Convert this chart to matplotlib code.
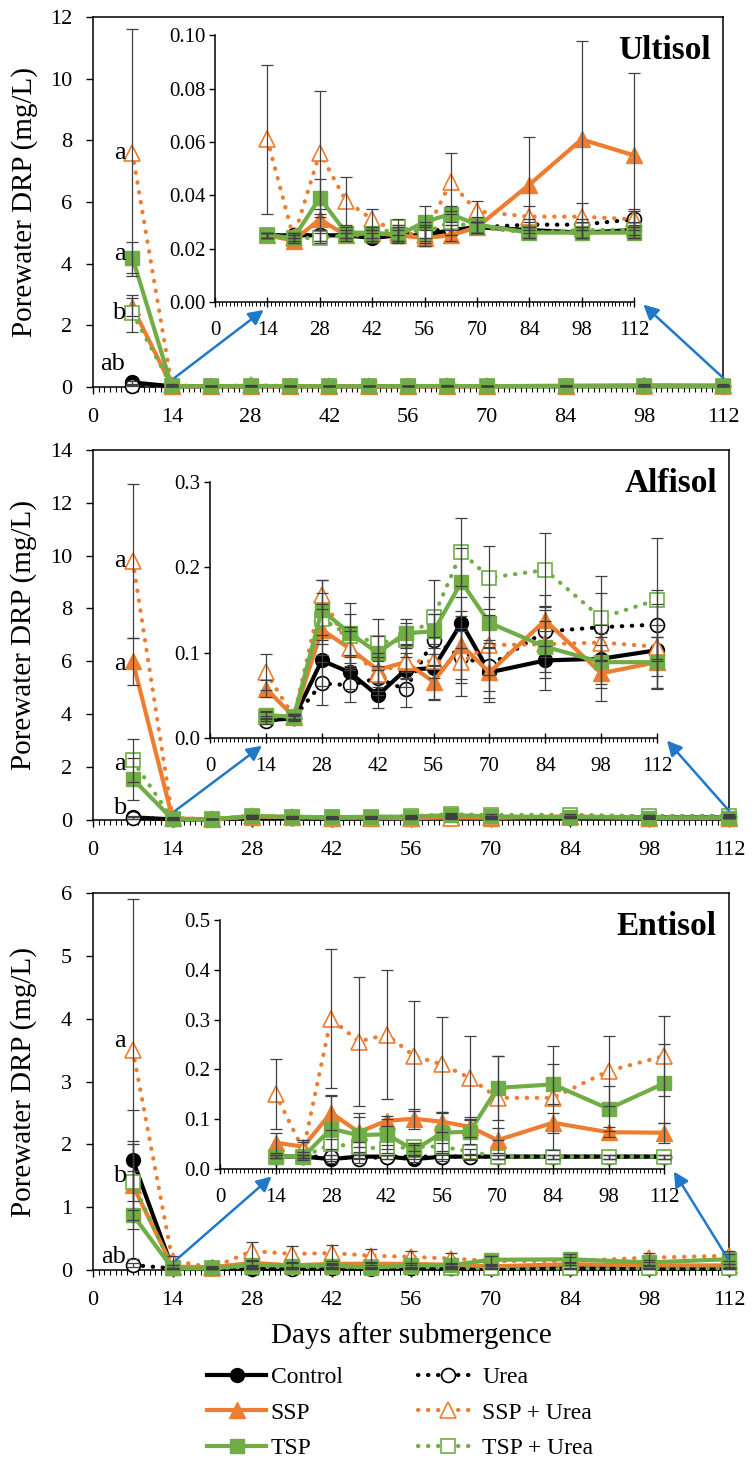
import matplotlib.pyplot as plt
import matplotlib.transforms as mtransforms
from matplotlib.patches import ConnectionPatch
from matplotlib.ticker import MultipleLocator, FormatStrFormatter

plt.rcParams['font.family'] = ['Liberation Serif', 'DejaVu Serif']

################################################################################
# Data: porewater DRP (mg/L), mean and error bar, sampling days
days = [7, 14, 21, 28, 35, 42, 49, 56, 63, 70, 84, 98, 112]
treatments = ['Control', 'Urea', 'SSP', 'SSP + Urea', 'TSP', 'TSP + Urea']

# Ultisol
ult_control = [0.15, 0.025, 0.025, 0.025, 0.025, 0.024, 0.025, 0.025, 0.027, 0.028, 0.027, 0.026, 0.027]
ult_urea = [0.05, 0.025, 0.025, 0.025, 0.025, 0.025, 0.026, 0.027, 0.027, 0.028, 0.029, 0.029, 0.031]
ult_ssp = [2.6, 0.025, 0.023, 0.031, 0.025, 0.026, 0.025, 0.024, 0.025, 0.028, 0.044, 0.061, 0.055]
ult_ssp_urea = [7.6, 0.061, 0.024, 0.056, 0.038, 0.031, 0.026, 0.025, 0.045, 0.034, 0.032, 0.032, 0.031]
ult_tsp = [4.2, 0.025, 0.024, 0.039, 0.026, 0.026, 0.025, 0.030, 0.033, 0.029, 0.026, 0.026, 0.026]
ult_tsp_urea = [2.4, 0.025, 0.024, 0.024, 0.025, 0.025, 0.028, 0.026, 0.030, 0.028, 0.026, 0.027, 0.027]

ult_control_err = [0.05, 0.001, 0.001, 0.002, 0.001, 0.002, 0.003, 0.004, 0.002, 0.002, 0.003, 0.002, 0.002]
ult_urea_err = [0.02, 0.001, 0.001, 0.002, 0.001, 0.002, 0.003, 0.003, 0.002, 0.002, 0.002, 0.002, 0.003]
ult_ssp_err = [0.3, 0.001, 0.001, 0.004, 0.002, 0.002, 0.002, 0.003, 0.002, 0.002, 0.018, 0.037, 0.031]
ult_ssp_urea_err = [4.0, 0.028, 0.002, 0.023, 0.009, 0.004, 0.003, 0.003, 0.011, 0.004, 0.004, 0.005, 0.004]
ult_tsp_err = [0.5, 0.001, 0.001, 0.007, 0.002, 0.002, 0.003, 0.006, 0.003, 0.003, 0.002, 0.002, 0.002]
ult_tsp_urea_err = [0.6, 0.001, 0.001, 0.002, 0.002, 0.002, 0.003, 0.003, 0.003, 0.002, 0.002, 0.003, 0.003]

# Alfisol
alf_control = [0.10, 0.021, 0.023, 0.091, 0.077, 0.050, 0.080, 0.082, 0.135, 0.077, 0.091, 0.093, 0.103]
alf_urea = [0.08, 0.020, 0.024, 0.064, 0.062, 0.070, 0.057, 0.115, 0.095, 0.085, 0.125, 0.130, 0.133]
alf_ssp = [6.0, 0.058, 0.025, 0.127, 0.105, 0.080, 0.089, 0.066, 0.109, 0.077, 0.138, 0.076, 0.089]
alf_ssp_urea = [9.8, 0.077, 0.025, 0.168, 0.105, 0.075, 0.090, 0.090, 0.089, 0.109, 0.110, 0.112, 0.107]
alf_tsp = [1.55, 0.027, 0.025, 0.150, 0.123, 0.100, 0.123, 0.125, 0.183, 0.135, 0.107, 0.089, 0.089]
alf_tsp_urea = [2.25, 0.025, 0.025, 0.140, 0.120, 0.112, 0.115, 0.142, 0.218, 0.188, 0.197, 0.141, 0.162]

alf_control_err = [0.05, 0.005, 0.003, 0.030, 0.020, 0.015, 0.020, 0.037, 0.030, 0.035, 0.035, 0.030, 0.030]
alf_urea_err = [0.03, 0.003, 0.003, 0.025, 0.020, 0.020, 0.020, 0.030, 0.030, 0.030, 0.030, 0.040, 0.040]
alf_ssp_err = [0.9, 0.010, 0.003, 0.030, 0.025, 0.020, 0.020, 0.020, 0.040, 0.030, 0.030, 0.033, 0.030]
alf_ssp_urea_err = [2.9, 0.021, 0.003, 0.017, 0.020, 0.020, 0.020, 0.020, 0.040, 0.035, 0.040, 0.020, 0.050]
alf_tsp_err = [0.8, 0.005, 0.003, 0.035, 0.035, 0.020, 0.017, 0.020, 0.040, 0.030, 0.030, 0.030, 0.030]
alf_tsp_urea_err = [0.8, 0.005, 0.003, 0.030, 0.025, 0.028, 0.020, 0.043, 0.040, 0.037, 0.043, 0.049, 0.072]

# Entisol
ent_control = [1.75, 0.025, 0.025, 0.020, 0.025, 0.025, 0.020, 0.025, 0.025, 0.025, 0.025, 0.025, 0.025]
ent_urea = [0.08, 0.025, 0.025, 0.025, 0.020, 0.025, 0.025, 0.025, 0.025, 0.025, 0.025, 0.025, 0.025]
ent_ssp = [1.35, 0.053, 0.045, 0.113, 0.074, 0.097, 0.101, 0.095, 0.085, 0.058, 0.093, 0.074, 0.073]
ent_ssp_urea = [3.5, 0.151, 0.038, 0.302, 0.256, 0.270, 0.227, 0.210, 0.183, 0.143, 0.143, 0.197, 0.227]
ent_tsp = [0.88, 0.025, 0.025, 0.081, 0.068, 0.070, 0.038, 0.073, 0.075, 0.163, 0.170, 0.121, 0.172]
ent_tsp_urea = [1.4, 0.025, 0.025, 0.050, 0.045, 0.040, 0.045, 0.045, 0.035, 0.025, 0.025, 0.025, 0.025]

ent_control_err = [0.8, 0.003, 0.003, 0.008, 0.004, 0.004, 0.006, 0.008, 0.006, 0.004, 0.004, 0.004, 0.004]
ent_urea_err = [0.03, 0.003, 0.003, 0.004, 0.008, 0.004, 0.004, 0.004, 0.004, 0.004, 0.004, 0.004, 0.004]
ent_ssp_err = [0.7, 0.020, 0.010, 0.035, 0.030, 0.010, 0.020, 0.020, 0.020, 0.025, 0.020, 0.010, 0.020]
ent_ssp_urea_err = [2.4, 0.070, 0.020, 0.140, 0.130, 0.130, 0.110, 0.095, 0.085, 0.085, 0.105, 0.070, 0.080]
ent_tsp_err = [0.7, 0.003, 0.003, 0.065, 0.045, 0.030, 0.010, 0.040, 0.025, 0.065, 0.040, 0.045, 0.080]
ent_tsp_urea_err = [0.6, 0.003, 0.003, 0.010, 0.010, 0.008, 0.008, 0.008, 0.006, 0.004, 0.004, 0.004, 0.004]

# significance letters at day 7 (letter, y)
ult_letters = [('a', 7.6), ('a', 4.3), ('b', 2.4), ('ab', 0.75)]
alf_letters = [('a', 9.8), ('a', 5.9), ('a', 2.1), ('b', 0.45)]
ent_letters = [('a', 3.65), ('b', 1.5), ('ab', 0.2)]

################################################################################
# Styles
orange = '#ED7D31'
green = '#70AD47'
arrow_blue = '#1F78C8'
dots = (0, (0.1, 2.3))
styles = {
    'Control':    dict(color='black', ls='-', marker='o', ms=10, open=False),
    'Urea':       dict(color='black', ls=dots, marker='o', ms=10, open=True),
    'SSP':        dict(color=orange, ls='-', marker='^', ms=11, open=False),
    'SSP + Urea': dict(color=orange, ls=dots, marker='^', ms=11, open=True),
    'TSP':        dict(color=green, ls='-', marker='s', ms=10, open=False),
    'TSP + Urea': dict(color=green, ls=dots, marker='s', ms=10, open=True),
}
draw_order = ['Control', 'Urea', 'SSP', 'SSP + Urea', 'TSP + Urea', 'TSP']


def draw(ax, x, y, err, name):
    st = styles[name]
    line, = ax.plot(x, y, color=st['color'], ls=st['ls'], lw=3,
                    dash_capstyle='round', marker=st['marker'], ms=st['ms'],
                    mfc='white' if st['open'] else st['color'],
                    mec=st['color'], mew=1.2 if st['open'] else 1,
                    clip_on=False, zorder=3, label=name)
    eb = ax.errorbar(x, y, yerr=err, fmt='none', ecolor='#404040',
                     elinewidth=0.9, capsize=4, capthick=0.9, zorder=4)
    for art in eb.get_children():
        art.set_clip_on(False)
    return line


def make_panel(fig, main_rect, inset_rect, means, errs, name, ymax, ystep,
               ins_ymax, ins_step, ins_fmt, letters):
    ax = fig.add_axes(main_rect)
    ins = fig.add_axes(inset_rect)
    ins.set_facecolor('none')
    lines = {}
    for t in draw_order:
        lines[t] = draw(ax, days, means[t], errs[t], t)
        draw(ins, days[1:], means[t][1:], errs[t][1:], t)

    # main axes
    ax.set_xlim(0, 112)
    ax.set_ylim(0, ymax)
    ax.xaxis.set_major_locator(MultipleLocator(14))
    ax.xaxis.set_minor_locator(MultipleLocator(1))
    ax.yaxis.set_major_locator(MultipleLocator(ystep))
    ax.tick_params(axis='both', which='major', labelsize=16, length=5,
                   width=1, pad=10, direction='out')
    ax.tick_params(axis='x', which='minor', length=3.5, width=0.8, direction='out')
    for sp in ax.spines.values():
        sp.set_linewidth(1.1)
    ax.set_ylabel('Porewater DRP (mg/L)', fontsize=21)
    ax.yaxis.set_label_coords(-0.088, 0.5)
    ax.text(0.981, 0.91, name, transform=ax.transAxes, ha='right',
            va='center', fontsize=24, fontweight='bold')
    for lab, yv in letters:
        ax.annotate(lab, xy=(7, yv), xytext=(-5, 0), textcoords='offset points',
                    ha='right', va='center', fontsize=19)

    # inset axes
    ins.set_xlim(0, 112)
    ins.set_ylim(0, ins_ymax)
    ins.xaxis.set_major_locator(MultipleLocator(14))
    ins.xaxis.set_minor_locator(MultipleLocator(1))
    ins.yaxis.set_major_locator(MultipleLocator(ins_step))
    ins.yaxis.set_major_formatter(FormatStrFormatter(ins_fmt))
    ins.spines['top'].set_visible(False)
    ins.spines['right'].set_visible(False)
    ins.spines['left'].set_linewidth(1.1)
    ins.spines['bottom'].set_linewidth(1.1)
    ins.tick_params(axis='x', which='major', labelsize=15, length=7,
                    width=1, direction='inout', pad=10)
    ins.tick_params(axis='x', which='minor', length=3, width=0.7, direction='out')
    ins.tick_params(axis='y', which='major', labelsize=15, length=4,
                    width=1, direction='out', pad=3)

    # arrows from the main axis to the inset axis
    main_tr = mtransforms.blended_transform_factory(ax.transData, ax.transAxes)
    ins_tr = mtransforms.blended_transform_factory(ins.transData, ins.transAxes)
    for tail, head in [((14.5, 0.025), (13, -0.03)), ((112, 0.025), (114.5, -0.01))]:
        con = ConnectionPatch(xyA=tail, coordsA=main_tr, xyB=head, coordsB=ins_tr,
                              arrowstyle='-|>,head_length=0.55,head_width=0.28',
                              mutation_scale=16, color=arrow_blue, lw=1.8,
                              shrinkA=0, shrinkB=0, zorder=6)
        fig.add_artist(con)
    return ax, lines


################################################################################
# Make figure
fig = plt.figure(figsize=(7.52, 14.65), dpi=100)

ult_means = dict(zip(treatments, [ult_control, ult_urea, ult_ssp, ult_ssp_urea, ult_tsp, ult_tsp_urea]))
ult_errs = dict(zip(treatments, [ult_control_err, ult_urea_err, ult_ssp_err, ult_ssp_urea_err, ult_tsp_err, ult_tsp_urea_err]))
alf_means = dict(zip(treatments, [alf_control, alf_urea, alf_ssp, alf_ssp_urea, alf_tsp, alf_tsp_urea]))
alf_errs = dict(zip(treatments, [alf_control_err, alf_urea_err, alf_ssp_err, alf_ssp_urea_err, alf_tsp_err, alf_tsp_urea_err]))
ent_means = dict(zip(treatments, [ent_control, ent_urea, ent_ssp, ent_ssp_urea, ent_tsp, ent_tsp_urea]))
ent_errs = dict(zip(treatments, [ent_control_err, ent_urea_err, ent_ssp_err, ent_ssp_urea_err, ent_tsp_err, ent_tsp_urea_err]))

ax1, lines = make_panel(fig, [0.1237, 0.7358, 0.8378, 0.2526], [0.2859, 0.7939, 0.5572, 0.1819],
                        ult_means, ult_errs, 'Ultisol', 12, 2, 0.10, 0.02, '%.2f', ult_letters)
ax2, _ = make_panel(fig, [0.1237, 0.4403, 0.8457, 0.2526], [0.2793, 0.4962, 0.5944, 0.1747],
                    alf_means, alf_errs, 'Alfisol', 14, 2, 0.3, 0.1, '%.1f', alf_letters)
ax3, _ = make_panel(fig, [0.1237, 0.1331, 0.8457, 0.2573], [0.2926, 0.2020, 0.5904, 0.1700],
                    ent_means, ent_errs, 'Entisol', 6, 1, 0.5, 0.1, '%.1f', ent_letters)
ax3.set_xlabel('Days after submergence', fontsize=21, labelpad=9)

legend_order = ['Control', 'SSP', 'TSP', 'Urea', 'SSP + Urea', 'TSP + Urea']
fig.legend([lines[t] for t in legend_order], legend_order, loc='center',
           bbox_to_anchor=(0.532, 0.0355), ncol=2, frameon=False, fontsize=17,
           handlelength=2.5, handletextpad=0.2, columnspacing=3.2,
           labelspacing=0.6)

fig.savefig('out.png', dpi=100)
